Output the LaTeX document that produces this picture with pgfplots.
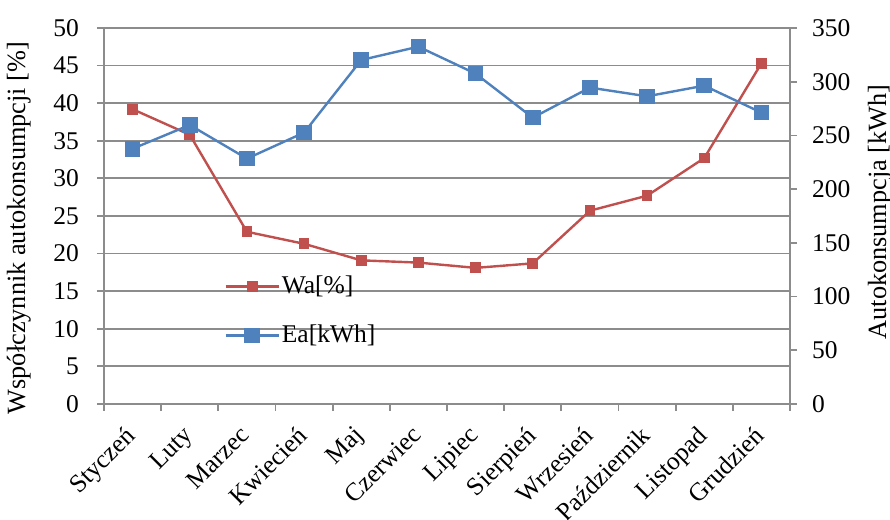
\documentclass[border=0pt]{standalone}
\usepackage{pgfplots}
\pgfplotsset{compat=1.18}
\usepackage{fontspec}
\setmainfont{Liberation Serif}
\definecolor{cred}{HTML}{C0504D}
\definecolor{cblue}{HTML}{4F81BD}
\definecolor{cgrid}{HTML}{8C8C8C}
\begin{document}
\begin{tikzpicture}
\pgfplotsset{
  every axis/.append style={
    font=\fontsize{12.8}{15.4}\selectfont,
    scale only axis, width=343bp, height=188bp,
    xmin=-0.5, xmax=11.5,
    /pgf/number format/assume math mode=true,
    axis line style={cgrid, line width=0.9bp},
    tick align=outside,
    major tick length=3.5bp,
    tick style={cgrid, line width=0.9bp},
    clip=false,
  },
}
\begin{axis}[
  axis y line*=left, axis x line*=bottom,
  ymin=0, ymax=50, ytick={0,5,...,50},
  xtick={-0.5,0.5,...,11.5}, xticklabels={},
  yticklabel style={xshift=-5.5bp},
  ymajorgrids, grid style={cgrid, line width=0.9bp},
  ylabel={Współczynnik autokonsumpcji [\%]},
  ylabel style={font=\fontsize{13.2}{15.8}\selectfont, yshift=4.5bp, xshift=-6bp},
]
\coordinate (pbl) at (rel axis cs:0,0);
\coordinate (ptr) at (rel axis cs:1,1);
\addplot[cred, line width=1.2bp, mark=square*, mark size=2.1bp, mark options={solid}] coordinates {
(0,39.2) (1,35.8) (2,22.9) (3,21.3) (4,19.1) (5,18.8) (6,18.1) (7,18.7) (8,25.7) (9,27.7) (10,32.7) (11,45.3)};
\end{axis}
\begin{axis}[
  axis y line*=right, axis x line*=bottom,
  ymin=0, ymax=350, ytick={0,50,...,350},
  yticklabel style={xshift=4bp},
  xtick={0,...,11},
  xticklabels={Styczeń,Luty,Marzec,Kwiecień,Maj,Czerwiec,Lipiec,Sierpień,Wrzesień,Październik,Listopad,Grudzień},
  xtick style={draw=none},
  xticklabel style={xshift=-4.1bp, yshift=-5.1bp, rotate=45, anchor=north east, inner sep=1bp},
  ylabel={Autokonsumpcja [kWh]},
  ylabel style={font=\fontsize{13.2}{15.8}\selectfont, yshift=-2bp, xshift=2bp},
  legend style={at={(rel axis cs:0.175,0.346)}, anchor=north west, draw=none, fill=none,
    row sep=12bp, inner sep=0pt, nodes={inner sep=1bp}},
  legend cell align=left,
  legend image code/.code={\draw[#1, mark repeat=2, mark phase=2] plot coordinates {(0bp,0bp) (13.25bp,0bp) (26.5bp,0bp)};},
]
\addlegendimage{cred, line width=1.2bp, mark=square*, mark size=2.1bp, mark options={solid}}
\addlegendentry{Wa[\%]}
\addplot[cblue, line width=1.2bp, mark=square*, mark size=3.3bp, mark options={solid}] coordinates {
(0,237.6) (1,259.7) (2,228.4) (3,252.6) (4,320.2) (5,332.6) (6,307.5) (7,266.5) (8,294.5) (9,286.4) (10,296.3) (11,271.2)};
\addlegendentry{Ea[kWh]}
\end{axis}
\pgfresetboundingbox
\path[use as bounding box] ([xshift=-52bp,yshift=-58bp]pbl) rectangle ([xshift=50bp,yshift=14bp]ptr);
\end{tikzpicture}
\end{document}
